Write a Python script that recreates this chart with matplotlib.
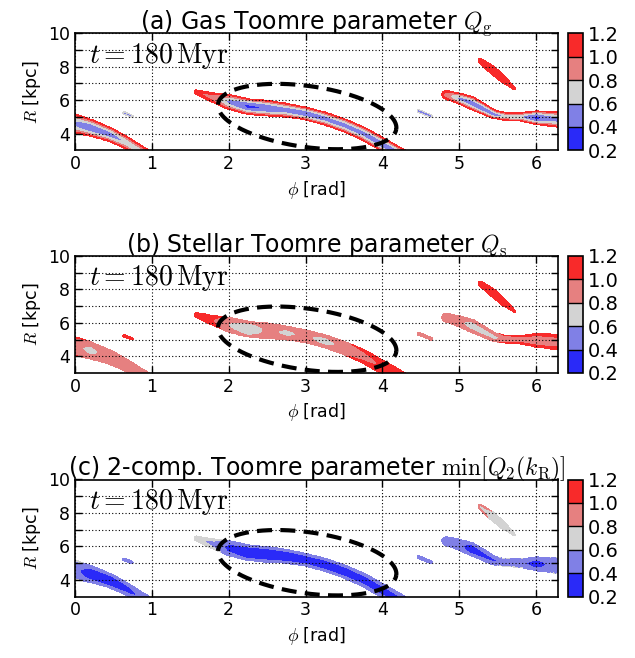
import numpy as np
import matplotlib
matplotlib.use('Agg')
import matplotlib.pyplot as plt
from matplotlib.colors import ListedColormap, BoundaryNorm

plt.rcParams['font.family'] = ['DejaVu Sans']
plt.rcParams['mathtext.fontset'] = 'cm'

# ---------------- data ----------------
LEVELS = [0.2, 0.4, 0.6, 0.8, 1.0, 1.2]
COLORS = ['#2a2af8', '#8080e6', '#d3d3d3', '#e68080', '#f82a2a']
TITLES = [r'(a) Gas Toomre parameter $Q_{\rm g}$',
          r'(b) Stellar Toomre parameter $Q_{\rm s}$',
          r'(c) 2-comp. Toomre parameter $\min[Q_2(k_{\rm R})]$']
TIME_LABEL = r'$t=180\,\mathrm{Myr}$'
X_TICKS = [0, 1, 2, 3, 4, 5, 6]
Y_TICKS = [4, 5, 6, 7, 8, 9, 10]
Y_TICKLABELS = ['4', '', '6', '', '8', '', '10']
CB_TICKS = [0.2, 0.4, 0.6, 0.8, 1.0, 1.2]
PROFILE_EXP = {'a': 2.0, 'b': 2.0, 'c': 2.0}

# dashed ellipse (centre in data units; semi-axes in display pixels; tilt deg)
ELL_PHI, ELL_R = 3.02, 5.02
ELL_A_PX, ELL_B_PX, ELL_TILT = 90.0, 30.5, -8.0

# spiral-arm ridge lines (phi [rad], R [kpc]) and half widths (px)
MAIN_PHI = [1.58, 1.80, 2.00, 2.25, 2.50, 2.75, 3.00, 3.25, 3.50, 3.75, 4.00, 4.25]
MAIN_R   = [6.48, 6.15, 5.90, 5.62, 5.52, 5.40, 5.20, 4.90, 4.50, 4.00, 3.35, 2.70]
MAIN_HW  = [2.5, 5.0, 7.5, 8.0, 8.0, 7.0, 6.5, 6.5, 6.5, 6.5, 6.5, 6.5]
MAIN_CORE_A = [1.05, 0.90, 0.55, 0.36, 0.42, 0.50, 0.45, 0.50, 0.50, 0.50, 0.45, 0.50]
MAIN_EDGE_A = [1.18, 1.18, 1.18, 1.18, 1.18, 1.18, 1.18, 1.18, 1.18, 1.18, 1.18, 1.18]
MAIN_CORE_B = [1.10, 1.00, 0.80, 0.62, 0.85, 0.76, 0.84, 0.72, 0.88, 0.95, 1.02, 1.05]
MAIN_EDGE_B = [1.15, 1.10, 0.95, 0.95, 0.95, 0.95, 0.95, 0.95, 0.98, 1.08, 1.15, 1.15]
MAIN_CORE_C = [0.65, 0.55, 0.35, 0.28, 0.30, 0.30, 0.32, 0.30, 0.30, 0.32, 0.32, 0.35]
MAIN_EDGE_C = [0.75, 0.70, 0.55, 0.52, 0.50, 0.50, 0.52, 0.52, 0.52, 0.55, 0.55, 0.55]

LEFT_PHI = [-0.20, 0.00, 0.20, 0.45, 0.65, 0.85, 1.00]
LEFT_R   = [4.85, 4.60, 4.35, 3.95, 3.50, 2.95, 2.55]
LEFT_HW  = [9.5, 9.5, 8.5, 7.0, 6.0, 5.5, 5.5]
LEFT_CORE_A = [0.55, 0.55, 0.45, 0.50, 0.62, 0.68, 0.70]
LEFT_EDGE_A = [1.18, 1.18, 1.18, 1.18, 1.18, 1.18, 1.18]
LEFT_CORE_B = [0.85, 0.85, 0.75, 0.88, 0.90, 0.90, 0.90]
LEFT_EDGE_B = [1.05, 1.05, 0.97, 0.97, 0.97, 0.97, 0.97]
LEFT_CORE_C = [0.45, 0.45, 0.30, 0.30, 0.35, 0.42, 0.45]
LEFT_EDGE_C = [0.65, 0.65, 0.55, 0.50, 0.50, 0.50, 0.50]

RIGHT_PHI = [4.83, 5.00, 5.15, 5.30, 5.45, 5.60, 5.80, 6.00, 6.15, 6.45]
RIGHT_R   = [6.32, 6.10, 5.85, 5.50, 5.15, 5.02, 5.00, 4.95, 4.90, 4.78]
RIGHT_HW  = [4.5, 5.5, 6.5, 5.5, 4.5, 4.0, 4.5, 7.0, 7.5, 8.5]
RIGHT_CORE_A = [0.90, 0.55, 0.48, 0.45, 0.50, 0.62, 0.62, 0.33, 0.50, 0.55]
RIGHT_EDGE_A = [1.18, 1.18, 1.18, 1.18, 1.18, 1.18, 1.18, 1.18, 1.18, 1.18]
RIGHT_CORE_B = [1.00, 0.85, 0.72, 0.72, 0.75, 0.85, 0.92, 0.92, 0.92, 0.95]
RIGHT_EDGE_B = [1.00, 0.97, 0.97, 0.97, 0.97, 1.05, 1.10, 1.10, 1.10, 1.15]
RIGHT_CORE_C = [0.50, 0.45, 0.32, 0.35, 0.38, 0.45, 0.45, 0.32, 0.42, 0.45]
RIGHT_EDGE_C = [0.58, 0.55, 0.50, 0.55, 0.60, 0.62, 0.62, 0.55, 0.60, 0.62]

OUTER_PHI = [5.27, 5.42, 5.57, 5.72]
OUTER_R   = [8.37, 7.85, 7.25, 6.68]
OUTER_HW  = [2.5, 4.0, 3.5, 1.2]
OUTER_CORE_A = [1.05, 1.05, 1.05, 1.05]
OUTER_EDGE_A = [1.15, 1.15, 1.15, 1.15]
OUTER_CORE_B = [1.05, 1.05, 1.05, 1.05]
OUTER_EDGE_B = [1.15, 1.15, 1.15, 1.15]
OUTER_CORE_C = [0.76, 0.70, 0.70, 0.72]
OUTER_EDGE_C = [0.95, 0.78, 0.78, 0.78]

CLUMP1_PHI = [0.64, 0.74]
CLUMP1_R   = [5.22, 5.05]
CLUMP1_HW  = [1.5, 1.3]
CLUMP1_CORE = {'a': [0.55, 0.55], 'b': [1.05, 1.05], 'c': [0.50, 0.50]}
CLUMP1_EDGE = {'a': [0.65, 0.65], 'b': [1.10, 1.10], 'c': [0.55, 0.55]}

CLUMP2_PHI = [4.47, 4.63]
CLUMP2_R   = [5.35, 5.05]
CLUMP2_HW  = [1.7, 1.5]
CLUMP2_CORE = {'a': [0.50, 0.50], 'b': [0.90, 0.90], 'c': [0.50, 0.50]}
CLUMP2_EDGE = {'a': [0.65, 0.65], 'b': [0.97, 0.97], 'c': [0.55, 0.55]}

ARMS = {
    'a': [(MAIN_PHI, MAIN_R, MAIN_HW, MAIN_CORE_A, MAIN_EDGE_A),
          (LEFT_PHI, LEFT_R, LEFT_HW, LEFT_CORE_A, LEFT_EDGE_A),
          (RIGHT_PHI, RIGHT_R, RIGHT_HW, RIGHT_CORE_A, RIGHT_EDGE_A),
          (OUTER_PHI, OUTER_R, OUTER_HW, OUTER_CORE_A, OUTER_EDGE_A)],
    'b': [(MAIN_PHI, MAIN_R, MAIN_HW, MAIN_CORE_B, MAIN_EDGE_B),
          (LEFT_PHI, LEFT_R, LEFT_HW, LEFT_CORE_B, LEFT_EDGE_B),
          (RIGHT_PHI, RIGHT_R, RIGHT_HW, RIGHT_CORE_B, RIGHT_EDGE_B),
          (OUTER_PHI, OUTER_R, OUTER_HW, OUTER_CORE_B, OUTER_EDGE_B)],
    'c': [(MAIN_PHI, MAIN_R, MAIN_HW, MAIN_CORE_C, MAIN_EDGE_C),
          (LEFT_PHI, LEFT_R, LEFT_HW, LEFT_CORE_C, LEFT_EDGE_C),
          (RIGHT_PHI, RIGHT_R, RIGHT_HW, RIGHT_CORE_C, RIGHT_EDGE_C),
          (OUTER_PHI, OUTER_R, OUTER_HW, OUTER_CORE_C, OUTER_EDGE_C)],
}
for key in 'abc':
    ARMS[key].append((CLUMP1_PHI, CLUMP1_R, CLUMP1_HW, CLUMP1_CORE[key], CLUMP1_EDGE[key]))
    ARMS[key].append((CLUMP2_PHI, CLUMP2_R, CLUMP2_HW, CLUMP2_CORE[key], CLUMP2_EDGE[key]))

# ---------------- layout ----------------
W, H = 635, 658
fig = plt.figure(figsize=(W / 100, H / 100), dpi=100)
AX_L, AX_W = 75 / W, 483 / W
AX_H = 117 / H
AX_TOPS = [33.3, 256, 479.5]
CB_L, CB_W = 568 / W, 15 / W

SX = 483 / (2 * np.pi)   # px per rad
SY = 117 / 7.0           # px per kpc

phi_g = np.linspace(0, 2 * np.pi, 1100)
r_g = np.linspace(3, 10, 300)
PHI, RR = np.meshgrid(phi_g, r_g)


def build_field(arms, p):
    X, Y = PHI * SX, RR * SY
    best = np.full(X.shape, np.inf)
    val = np.full(X.shape, np.nan)
    for phis, rs, hws, core, edge in arms:
        px = np.asarray(phis) * SX
        py = np.asarray(rs) * SY
        for i in range(len(px) - 1):
            dx, dy = px[i + 1] - px[i], py[i + 1] - py[i]
            t = np.clip(((X - px[i]) * dx + (Y - py[i]) * dy) / (dx * dx + dy * dy), 0, 1)
            d = np.hypot(X - (px[i] + t * dx), Y - (py[i] + t * dy))
            hw = hws[i] + t * (hws[i + 1] - hws[i])
            nd = d / hw
            c = core[i] + t * (core[i + 1] - core[i])
            e = edge[i] + t * (edge[i + 1] - edge[i])
            sel = (nd <= 1) & (nd < best)
            best = np.where(sel, nd, best)
            val = np.where(sel, c + (e - c) * nd ** p, val)
    return np.ma.masked_invalid(val)


cmap = ListedColormap(COLORS)
norm = BoundaryNorm(LEVELS, cmap.N)

tt = np.linspace(0, 2 * np.pi, 400)
th = np.deg2rad(ELL_TILT)
u = ELL_A_PX * np.cos(tt)
v = ELL_B_PX * np.sin(tt)
ell_phi = ELL_PHI + (u * np.cos(th) - v * np.sin(th)) / SX
ell_r = ELL_R + (u * np.sin(th) + v * np.cos(th)) / SY

for k, key in enumerate('abc'):
    top = AX_TOPS[k]
    ax = fig.add_axes([AX_L, 1 - (top + 117) / H, AX_W, AX_H])
    Z = build_field(ARMS[key], PROFILE_EXP[key])
    cf = ax.contourf(PHI, RR, Z, levels=LEVELS, cmap=cmap, norm=norm)
    ax.plot(ell_phi, ell_r, color='k', lw=3, ls=(0, (3.6, 2.0)), zorder=3)
    ax.set_xlim(0, 2 * np.pi)
    ax.set_ylim(3, 10)
    ax.set_xticks(X_TICKS)
    ax.set_yticks(Y_TICKS)
    ax.set_yticklabels(Y_TICKLABELS)
    ax.tick_params(direction='in', top=True, right=True, labelsize=12.5, length=5, width=1)
    ax.grid(True, color='k', ls=(0, (1, 2)), lw=0.8)
    for s in ax.spines.values():
        s.set_linewidth(1.2)
    ax.set_xlabel(r'$\phi$ [rad]', fontsize=12.5)
    ax.set_ylabel(r'$R$ [kpc]', fontsize=12.5)
    ax.set_title(TITLES[k], fontsize=17, pad=3)
    ax.text(0.03, 0.75, TIME_LABEL, transform=ax.transAxes, fontsize=20,
            va='baseline', ha='left')
    cax = fig.add_axes([CB_L, 1 - (top + 117) / H, CB_W, AX_H])
    cb = fig.colorbar(cf, cax=cax, ticks=CB_TICKS, drawedges=True)
    cb.ax.tick_params(labelsize=14, length=0)
    cb.outline.set_linewidth(1.2)
    cb.dividers.set_linewidth(1.0)

fig.savefig('out.png', dpi=100)
